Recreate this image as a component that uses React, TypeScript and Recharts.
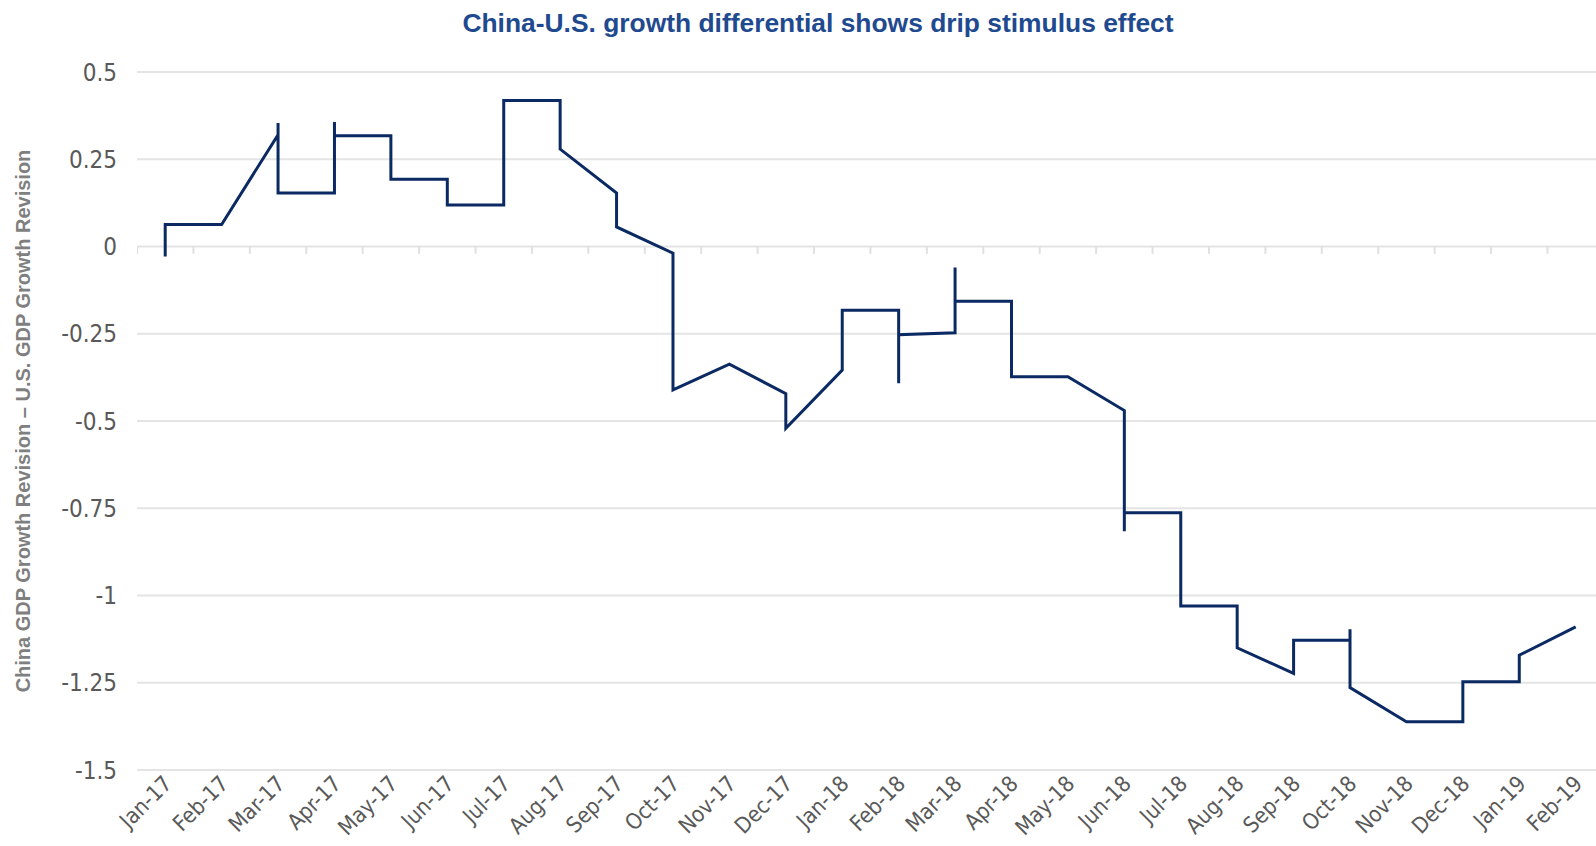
import React from "react";
import {
  LineChart,
  Line,
  CartesianGrid,
  XAxis,
  YAxis,
  ReferenceLine,
  Label,
} from "recharts";

// month categories on the x axis
const months = [
  "Jan-17", "Feb-17", "Mar-17", "Apr-17", "May-17", "Jun-17", "Jul-17",
  "Aug-17", "Sep-17", "Oct-17", "Nov-17", "Dec-17", "Jan-18", "Feb-18",
  "Mar-18", "Apr-18", "May-18", "Jun-18", "Jul-18", "Aug-18", "Sep-18",
  "Oct-18", "Nov-18", "Dec-18", "Jan-19", "Feb-19",
];

// differential readings within each month, in drawing order
const revisions: number[][] = [
  [-0.029, 0.063], // Jan-17
  [0.063], // Feb-17
  [0.32, 0.354, 0.153], // Mar-17
  [0.153, 0.357, 0.317], // Apr-17
  [0.317, 0.193], // May-17
  [0.193, 0.119], // Jun-17
  [0.119, 0.418], // Jul-17
  [0.418, 0.279], // Aug-17
  [0.153, 0.056], // Sep-17
  [-0.019, -0.159, -0.107, -0.411], // Oct-17
  [-0.337], // Nov-17
  [-0.422, -0.521], // Dec-17
  [-0.354, -0.183], // Jan-18
  [-0.183, -0.392, -0.253], // Feb-18
  [-0.247, -0.06, -0.157], // Mar-18
  [-0.157, -0.373], // Apr-18
  [-0.373], // May-18
  [-0.47, -0.816, -0.763], // Jun-18
  [-0.763, -1.03], // Jul-18
  [-1.03, -1.15], // Aug-18
  [-1.223, -1.128], // Sep-18
  [-1.128, -1.097, -1.264], // Oct-18
  [-1.362], // Nov-18
  [-1.362, -1.247], // Dec-18
  [-1.247, -1.171], // Jan-19
  [-1.09], // Feb-19
];

const yTicks = [-1.5, -1.25, -1, -0.75, -0.5, -0.25, 0, 0.25, 0.5];
const yTickLabels = ["-1.5", "-1.25", "-1", "-0.75", "-0.5", "-0.25", "0", "0.25", "0.5"];

const data = revisions.flatMap((vals, i) => vals.map((v) => ({ x: i, y: v })));
const monthIdx = months.map((_, i) => i);

const TICK_FONT = "'Liberation Sans Narrow', 'Arial Narrow', 'DejaVu Sans Condensed', sans-serif";
const GRAY = "#595959";

const MonthTick = (props: any) => {
  const { x, y, payload } = props;
  const ax = x + 8;
  const ay = y + 15;
  return (
    <text
      x={ax}
      y={ay}
      transform={`rotate(-45 ${ax} ${ay})`}
      textAnchor="end"
      fill={GRAY}
      fontSize={22}
      fontFamily={TICK_FONT}
    >
      {months[payload.value]}
    </text>
  );
};

const App = () => {
  return (
    <div style={{ position: "absolute", left: 0, top: 0, width: 1596, height: 846, background: "#fff" }}>
      <div
        style={{
          position: "absolute",
          left: 818,
          top: 8,
          transform: "translateX(-50%)",
          whiteSpace: "nowrap",
          fontFamily: "'Liberation Sans', Arial, sans-serif",
          fontWeight: "bold",
          fontSize: 26.4,
          color: "#1f4a8f",
        }}
      >
        China-U.S. growth differential shows drip stimulus effect
      </div>
      <LineChart
        width={1596}
        height={846}
        data={data}
        margin={{ top: 72, right: 0, bottom: 0, left: 77 }}
      >
        <CartesianGrid horizontal vertical={false} stroke="#e4e4e4" strokeWidth={2} />
        <XAxis
          dataKey="x"
          type="number"
          domain={[-0.5, 25.36]}
          allowDataOverflow
          ticks={monthIdx}
          interval={0}
          axisLine={false}
          tickLine={false}
          tickSize={0}
          tickMargin={0}
          height={76}
          tick={<MonthTick />}
        />
        <YAxis
          dataKey="y"
          type="number"
          domain={[-1.5, 0.5]}
          ticks={yTicks}
          interval={0}
          width={60}
          axisLine={false}
          tickLine={false}
          tickSize={0}
          tickMargin={20}
          tick={{ fill: GRAY, fontSize: 24, fontFamily: TICK_FONT }}
          tickFormatter={(v: number) => yTickLabels[yTicks.indexOf(v)] ?? String(v)}
        >
          <Label
            content={(p: any) => {
              const vb = p.viewBox || {};
              const cx = 23;
              const cy = vb.y + vb.height / 2;
              return (
                <text
                  x={cx}
                  y={cy}
                  transform={`rotate(-90 ${cx} ${cy})`}
                  textAnchor="middle"
                  dominantBaseline="central"
                  fill="#7f7f7f"
                  fontSize={20}
                  fontWeight="bold"
                  fontFamily="'Liberation Sans', Arial, sans-serif"
                >
                  China GDP Growth Revision – U.S. GDP Growth Revision
                </text>
              );
            }}
          />
        </YAxis>
        {months.map((m, i) => (
          <ReferenceLine
            key={m}
            segment={[
              { x: i - 0.5, y: 0 },
              { x: i - 0.5, y: -0.021 },
            ]}
            stroke="#e0e0e0"
            strokeWidth={2}
            ifOverflow="hidden"
          />
        ))}
        <Line
          type="linear"
          dataKey="y"
          stroke="#0b2a63"
          strokeWidth={3}
          dot={false}
          activeDot={false}
          isAnimationActive={false}
        />
      </LineChart>
    </div>
  );
};

export default App;
